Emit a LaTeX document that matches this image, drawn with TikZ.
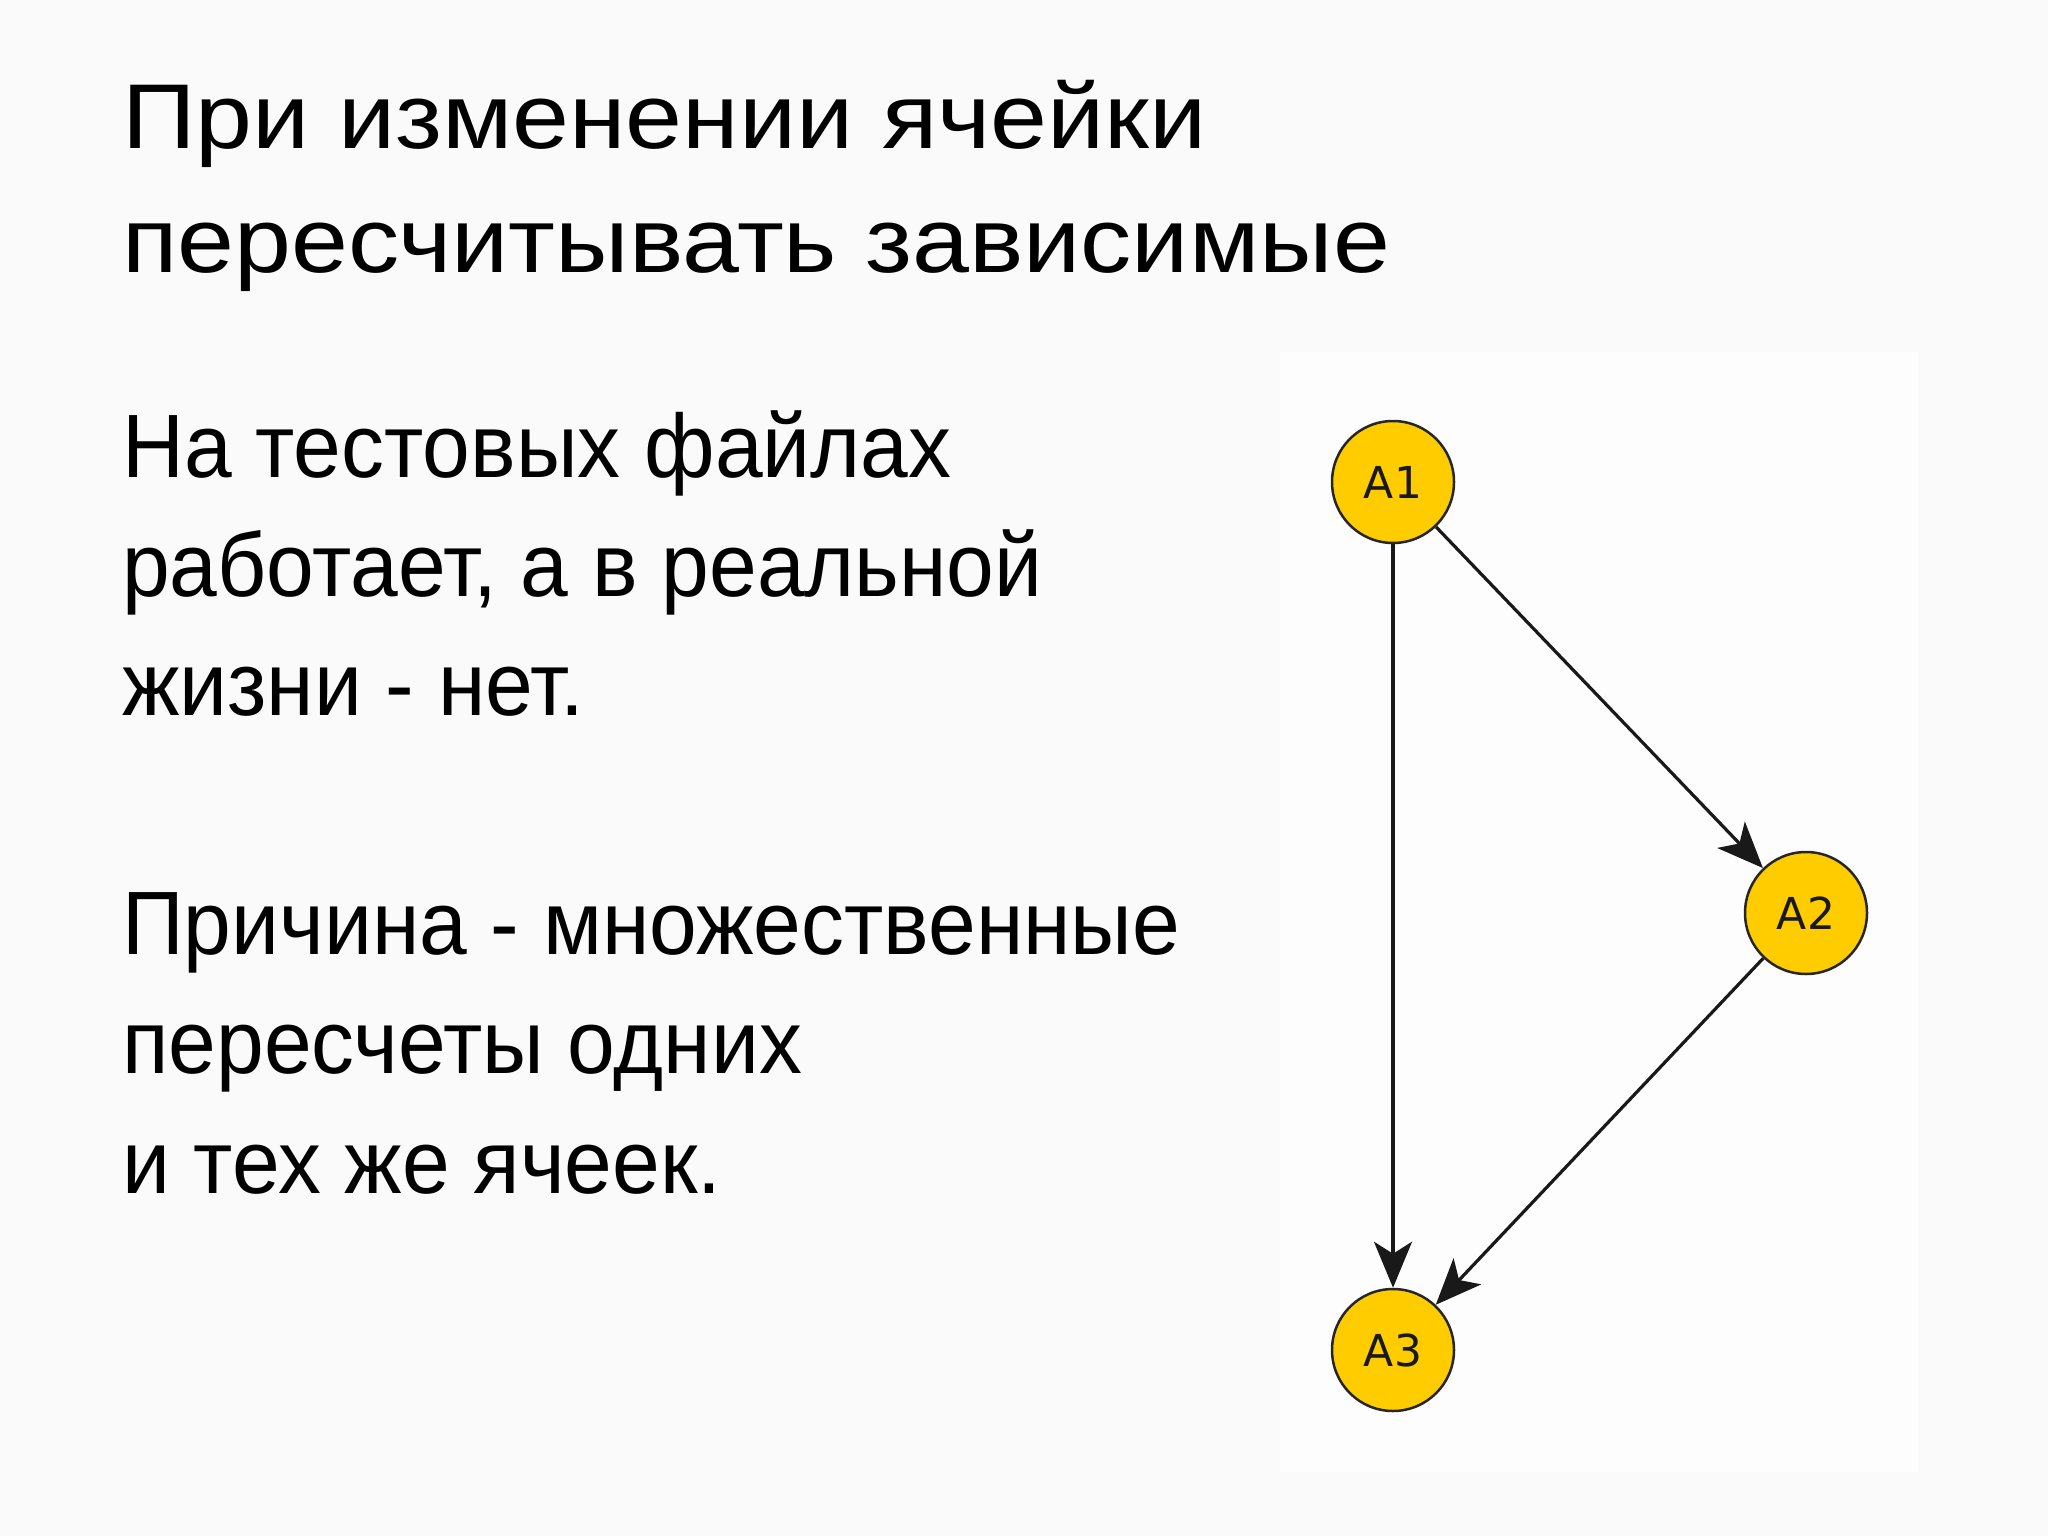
\documentclass[tikz,border=0pt]{standalone}
\usepackage{fontspec}
\setmainfont{Liberation Sans}
\newfontfamily\nodefont{DejaVu Sans}
\usetikzlibrary{arrows.meta}
\definecolor{bgcol}{RGB}{250,250,251}
\definecolor{panelcol}{RGB}{253,253,254}
\definecolor{cellyellow}{RGB}{255,204,0}
\definecolor{edgecol}{RGB}{25,25,25}
\newcommand{\titlestretch}[1]{\scalebox{1.112}[1]{#1}}
\newcommand{\bodysqueeze}[1]{\scalebox{0.953}[1]{#1}}
\tikzset{
  titletext/.style={anchor=base west, inner sep=0pt, font=\fontsize{92}{110}\selectfont, text=black},
  bodytext/.style={anchor=base west, inner sep=0pt, font=\fontsize{90}{108}\selectfont, text=black},
  cell/.style={circle, draw=black!85, line width=2.5pt, fill=cellyellow, minimum size=122pt, inner sep=0pt, font=\nodefont\fontsize{44}{52}\selectfont, text=black!90},
  dep/.style={draw=edgecol, line width=3.2pt, -{Stealth[length=46pt,width=38pt,inset=12pt]}}
}
\begin{document}
\begin{tikzpicture}[x=1pt,y=-1pt]
\fill[bgcol] (0,0) rectangle (2048,1536);
\useasboundingbox (0,0) rectangle (2048,1536);
\fill[panelcol] (1280,352) rectangle (1918,1472);
% title
\node[titletext] (t1) at (122,149) {\titlestretch{При изменении ячейки}};
\node[titletext] (t2) at (122,272) {\titlestretch{пересчитывать зависимые}};
% body
\node[bodytext] (b1) at (122,477) {\bodysqueeze{На тестовых файлах}};
\node[bodytext] (b2) at (122,596) {\bodysqueeze{работает, а в реальной}};
\node[bodytext] (b3) at (122,715) {\bodysqueeze{жизни - нет.}};
\node[bodytext] (c1) at (122,954) {\bodysqueeze{Причина - множественные}};
\node[bodytext] (c2) at (122,1073) {\bodysqueeze{пересчеты одних}};
\node[bodytext] (c3) at (122,1193) {\bodysqueeze{и тех же ячеек.}};
% graph
\node[cell] (A1) at (1393,482) {A1};
\node[cell] (A2) at (1806,913) {A2};
\node[cell] (A3) at (1393,1350) {A3};
\draw[dep] (A1) -- (A2);
\draw[dep] (A1) -- (A3);
\draw[dep] (A2) -- (A3);
\end{tikzpicture}
\end{document}
